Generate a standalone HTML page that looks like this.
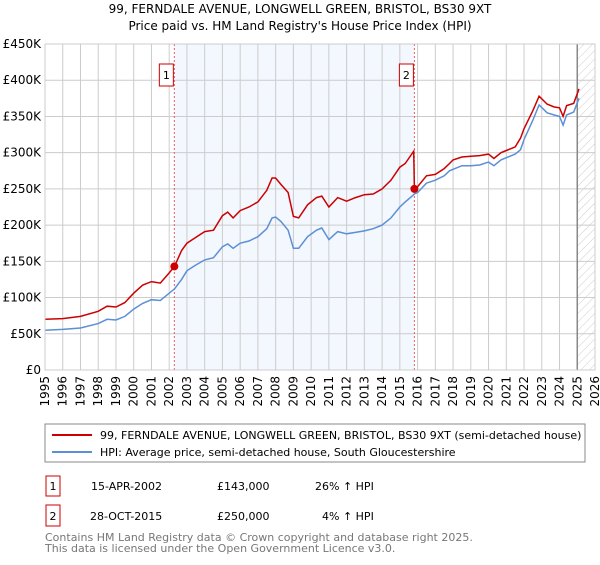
<!DOCTYPE html>
<html><head><meta charset="utf-8"><style>
body{margin:0;background:#fff;font-family:"Liberation Sans","DejaVu Sans",sans-serif;}
svg text{font-family:"DejaVu Sans","Liberation Sans",sans-serif;}
</style></head><body>
<svg id="c" width="600" height="560" xmlns="http://www.w3.org/2000/svg">
<defs><pattern id="hatch" width="6" height="6" patternUnits="userSpaceOnUse" patternTransform="rotate(45)"><line x1="0" y1="0" x2="0" y2="6" stroke="#ccc" stroke-width="1"/></pattern></defs>
<text x="300" y="13" text-anchor="middle" font-size="12">99, FERNDALE AVENUE, LONGWELL GREEN, BRISTOL, BS30 9XT</text>
<text x="300" y="30" text-anchor="middle" font-size="12">Price paid vs. HM Land Registry's House Price Index (HPI)</text>
<g id="plot"></g>
<rect x="45" y="424" width="540" height="38" fill="#fff" stroke="#888"/>
<line x1="52" y1="435" x2="92" y2="435" stroke="#cc0000" stroke-width="2"/>
<text x="100" y="439" font-size="11">99, FERNDALE AVENUE, LONGWELL GREEN, BRISTOL, BS30 9XT (semi-detached house)</text>
<line x1="52" y1="452" x2="92" y2="452" stroke="#5b8fd6" stroke-width="2"/>
<text x="100" y="456" font-size="11">HPI: Average price, semi-detached house, South Gloucestershire</text>
<g font-size="11">
<rect x="46" y="476" width="14" height="20" fill="#fff" stroke="#cc0000"/><text x="53" y="490" text-anchor="middle">1</text>
<text x="91" y="490">15-APR-2002</text><text x="217" y="490">£143,000</text><text x="315" y="490">26% ↑ HPI</text></g>
<g font-size="11">
<rect x="46" y="505" width="14" height="21" fill="#fff" stroke="#cc0000"/><text x="53" y="520" text-anchor="middle">2</text>
<text x="90" y="520">28-OCT-2015</text><text x="217" y="520">£250,000</text><text x="322" y="520">4% ↑ HPI</text></g>
<text font-size="11" fill="#777"><tspan x="45" y="541">Contains HM Land Registry data © Crown copyright and database right 2025.</tspan><tspan x="45" y="552">This data is licensed under the Open Government Licence v3.0.</tspan></text>
</svg>
<script>
const hpiYears=[1995,1996,1997,1998,1998.5,1999,1999.5,2000,2000.5,2001,2001.5,2002,2002.3,2002.7,2003,2003.5,2004,2004.5,2005,2005.3,2005.6,2006,2006.5,2007,2007.5,2007.8,2008,2008.3,2008.7,2009,2009.3,2009.8,2010.3,2010.6,2011,2011.5,2012,2012.5,2013,2013.5,2014,2014.5,2015,2015.3,2015.78,2015.82,2016,2016.5,2017,2017.5,2017.8,2018,2018.5,2019,2019.5,2020,2020.3,2020.7,2021,2021.5,2021.8,2022,2022.5,2022.85,2023.3,2023.7,2024,2024.2,2024.4,2024.8,2025.1];
const hpiValues=[55,56,58,64,70,69,74,84,92,97,96,106,112,125,137,145,152,155,170,174,168,175,178,184,195,210,211,205,193,168,168,184,193,196,180,191,188,190,192,195,200,210,225,232,242,243,245,258,262,268,275,277,282,282,283,287,282,290,293,298,304,318,345,366,355,352,350,338,352,356,375];
const priceValues=[70,71,74,81,88,87,93,106,117,122,120,134,143,165,175,183,191,193,213,218,210,220,225,232,248,265,265,256,245,212,210,228,238,240,225,238,233,238,242,243,250,262,280,285,302,250,253,268,270,278,285,290,294,295,296,298,292,300,303,308,320,333,358,378,367,363,362,350,365,368,388];
const saleYears=[2002.29,2015.82];
const saleValues=[143,250];
const saleLabels=["1","2"];
const yTicks=[0,50,100,150,200,250,300,350,400,450];
const yTickLabels=["£0","£50K","£100K","£150K","£200K","£250K","£300K","£350K","£400K","£450K"];
const xTicks=[1995,1996,1997,1998,1999,2000,2001,2002,2003,2004,2005,2006,2007,2008,2009,2010,2011,2012,2013,2014,2015,2016,2017,2018,2019,2020,2021,2022,2023,2024,2025,2026];
const dataEndYear=2025.0;

const NS="http://www.w3.org/2000/svg";
const L=45,R=595,T=44,B=370;
const xs=y=>L+(y-1995)/31*(R-L);
const ys=v=>B-v/450*(B-T);
const g=document.getElementById('plot');
function mk(tag,attrs,parent){const e=document.createElementNS(NS,tag);for(const k in attrs)e.setAttribute(k,attrs[k]);(parent||g).appendChild(e);return e;}
let e=mk('rect',{x:xs(saleYears[0]),y:T,width:xs(saleYears[1])-xs(saleYears[0]),height:B-T,fill:'#eef3fd',opacity:0.7});


e=mk('rect',{x:xs(dataEndYear),y:T,width:R-xs(dataEndYear),height:B-T,fill:'url(#hatch)'});


yTicks.forEach((v,i)=>{
 e=mk('line',{x1:L,x2:R,y1:ys(v),y2:ys(v),stroke:'#ccc'});
 
 
 e=mk('text',{x:L-4,y:ys(v)+4,'text-anchor':'end','font-size':12});
 e.textContent=yTickLabels[i];
 
 
});
xTicks.forEach(yr=>{
 e=mk('line',{x1:xs(yr),x2:xs(yr),y1:T,y2:B,stroke:'#ccc'});
 
 
 e=mk('text',{x:0,y:0,'text-anchor':'end','font-size':12,transform:`translate(${xs(yr)+4},${B+6}) rotate(-90)`});
 e.textContent=yr;
 
 
});
e=mk('line',{x1:xs(dataEndYear),x2:xs(dataEndYear),y1:T,y2:B,stroke:'#888','stroke-width':1.5});


saleYears.forEach((yr,i)=>{
 e=mk('line',{x1:xs(yr),x2:xs(yr),y1:T,y2:B,stroke:'#e06060','stroke-dasharray':'2,2'});
 
 
});
function path(vals){return vals.map((v,i)=>(i?'L':'M')+xs(hpiYears[i]).toFixed(1)+','+ys(v).toFixed(1)).join('');}
e=mk('path',{d:path(hpiValues),fill:'none',stroke:'#5b8fd6','stroke-width':1.5});


e=mk('path',{d:path(priceValues),fill:'none',stroke:'#cc0000','stroke-width':1.5});


saleYears.forEach((yr,i)=>{
 e=mk('circle',{cx:xs(yr),cy:ys(saleValues[i]),r:4,fill:'#cc0000'});
 
 
 e=mk('rect',{x:xs(yr)-15,y:64,width:14,height:22,fill:'#fff',stroke:'#cc0000'});
 
 
 e=mk('text',{x:xs(yr)-8,y:79,'text-anchor':'middle','font-size':11});
 e.textContent=saleLabels[i];
 
 
});
e=mk('rect',{x:L,y:T,width:R-L,height:B-T,fill:'none',stroke:'#ccc'});


</script>
</body></html>
